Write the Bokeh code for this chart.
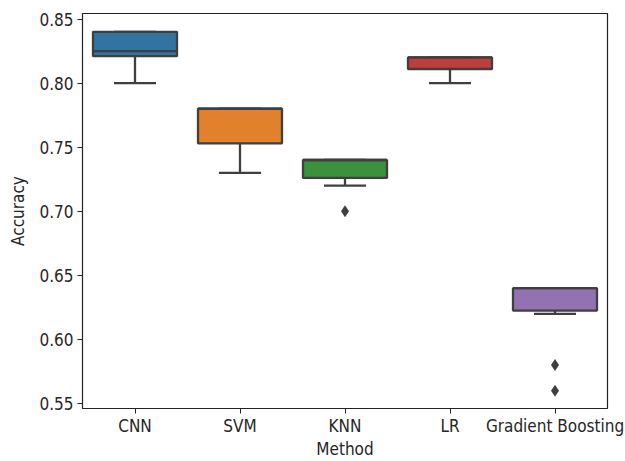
from bokeh.plotting import figure
from bokeh.models import Range1d, FixedTicker, ColumnDataSource, CustomJSTickFormatter
from bokeh.embed import file_html
from bokeh.resources import INLINE

methods = ["CNN", "SVM", "KNN", "LR", "Gradient Boosting"]
q1 = [0.821, 0.753, 0.726, 0.811, 0.6225]
median = [0.825, 0.780, 0.740, 0.820, 0.640]
q3 = [0.840, 0.780, 0.740, 0.820, 0.640]
whisker_low = [0.800, 0.730, 0.720, 0.800, 0.620]
whisker_high = [0.840, 0.780, 0.740, 0.820, 0.640]
colors = ["#3274a1", "#e1812c", "#3a923a", "#c03d3e", "#9372b2"]
outlier_method = ["KNN", "Gradient Boosting", "Gradient Boosting"]
outlier_value = [0.700, 0.580, 0.560]
y_ticks = [0.55, 0.60, 0.65, 0.70, 0.75, 0.80, 0.85]

FONT = "DejaVu Sans Condensed, DejaVu Sans"
EDGE = "#3f3f3f"
BOX_W = 0.8
CAP_W = 0.4

xs = list(range(len(methods)))

p = figure(width=625, height=461, output_backend="svg", toolbar_location=None,
           x_range=Range1d(-0.5, 4.5), y_range=Range1d(0.5461, 0.8543))
p.min_border_left = 82
p.min_border_right = 18
p.min_border_top = 13
p.min_border_bottom = 52
p.xgrid.visible = False
p.ygrid.visible = False
p.outline_line_color = "#222222"
p.outline_line_width = 1.2

src = ColumnDataSource(dict(x=xs, q1=q1, q3=q3, med=median, lo=whisker_low,
                            hi=whisker_high, color=colors,
                            cl=[x - CAP_W / 2 for x in xs], cr=[x + CAP_W / 2 for x in xs],
                            bl=[x - BOX_W / 2 for x in xs], br=[x + BOX_W / 2 for x in xs]))

LW = 2.3
# whiskers
p.segment(x0="x", y0="lo", x1="x", y1="q1", source=src, line_color=EDGE, line_width=LW)
p.segment(x0="x", y0="q3", x1="x", y1="hi", source=src, line_color=EDGE, line_width=LW)
# caps
p.segment(x0="cl", y0="lo", x1="cr", y1="lo", source=src, line_color=EDGE, line_width=LW)
p.segment(x0="cl", y0="hi", x1="cr", y1="hi", source=src, line_color=EDGE, line_width=LW)
# boxes
p.quad(left="bl", right="br", bottom="q1", top="q3", source=src,
       fill_color="color", line_color=EDGE, line_width=LW)
# medians
p.segment(x0="bl", y0="med", x1="br", y1="med", source=src, line_color=EDGE, line_width=LW)

# outliers
ox = [methods.index(m) for m in outlier_method]
p.scatter(ox, outlier_value, marker="diamond", size=12, fill_color=EDGE,
          line_color=EDGE, line_width=0)

p.xaxis.ticker = FixedTicker(ticks=xs)
p.xaxis.major_label_overrides = {i: m for i, m in enumerate(methods)}
p.yaxis.ticker = FixedTicker(ticks=y_ticks)
p.yaxis.formatter = CustomJSTickFormatter(code="return tick.toFixed(2);")

for ax in (p.xaxis[0], p.yaxis[0]):
    ax.minor_tick_line_color = None
    ax.major_tick_in = 0
    ax.major_tick_out = 5
    ax.major_tick_line_color = "#222222"
    ax.axis_line_color = None
    ax.major_label_text_font = FONT
    ax.major_label_text_font_size = "17px"
    ax.major_label_text_color = "#262626"
    ax.axis_label_text_font = FONT
    ax.axis_label_text_font_size = "17px"
    ax.axis_label_text_font_style = "normal"
    ax.axis_label_text_color = "#262626"
    ax.major_label_standoff = 4

p.xaxis.axis_label = "Method"
p.yaxis.axis_label = "Accuracy"
p.xaxis.major_label_standoff = 2
p.xaxis.axis_label_standoff = 0
p.yaxis.axis_label_standoff = 8

open("out.html", "w").write(file_html(p, INLINE))
